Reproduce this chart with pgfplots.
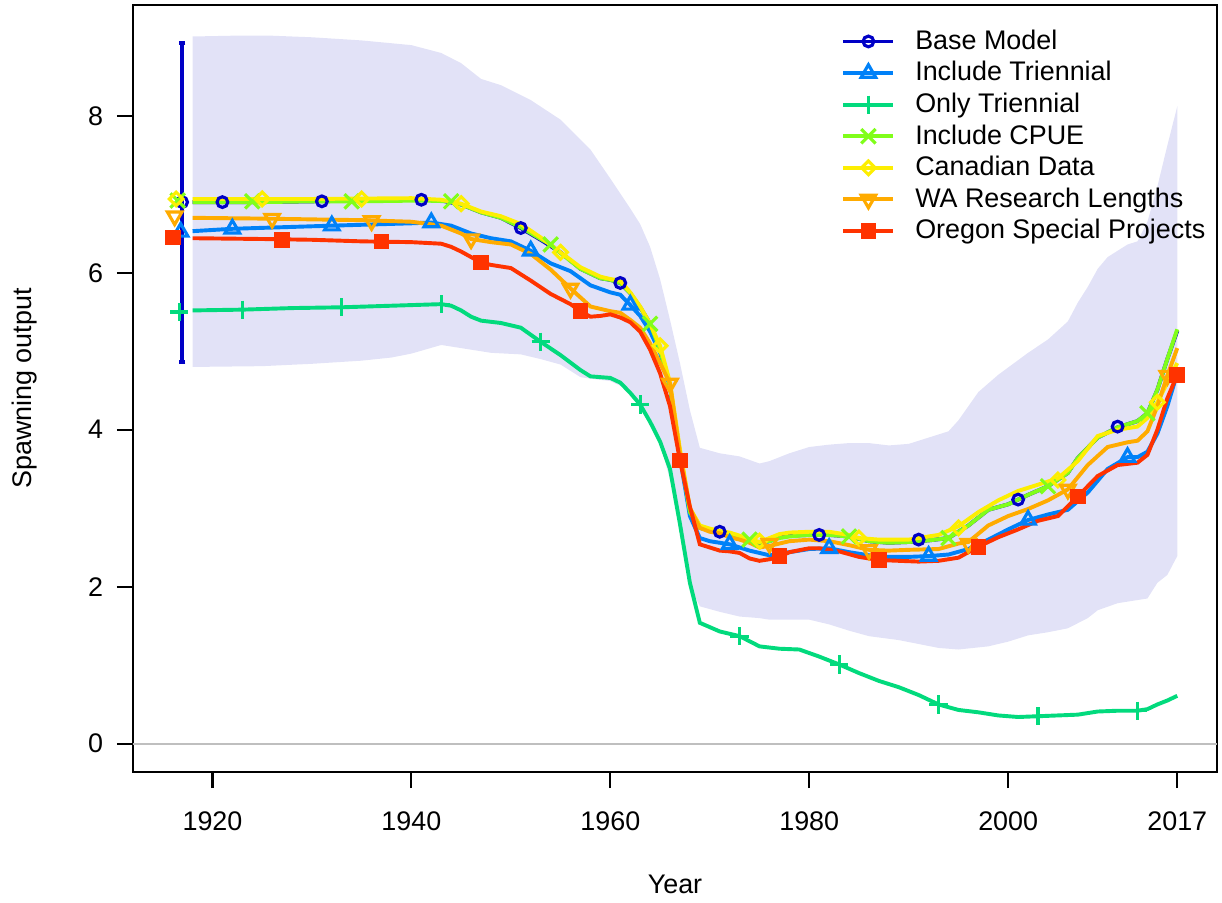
\documentclass[border=0pt]{standalone}
\usepackage{fontspec}
\setmainfont{Liberation Sans}
\usepackage{pgfplots}
\pgfplotsset{compat=1.18}
% r4ss rich colours for 7 models
\definecolor{cbase}{RGB}{0,0,198}
\definecolor{ctri}{RGB}{0,129,248}
\definecolor{conly}{RGB}{2,218,125}
\definecolor{ccpue}{RGB}{128,254,26}
\definecolor{ccan}{RGB}{253,238,2}
\definecolor{cwa}{RGB}{255,171,0}
\definecolor{cor}{RGB}{255,51,0}
\definecolor{shade}{RGB}{226,226,247}

\pgfplotsset{
  sline/.style={line width=1.5pt, no markers},
  smk/.style={only marks},
  mbase/.style={cbase, mark=o, mark size=2.05pt, mark options={solid, line width=1.2pt}},
  mtri/.style={ctri, mark=triangle, mark size=3.2pt, mark options={solid, line width=1.2pt}},
  monly/.style={conly, mark=+, mark size=3.5pt, mark options={solid, line width=1.2pt}},
  mcpue/.style={ccpue, mark=x, mark size=3.9pt, mark options={solid, line width=1.2pt}},
  mcan/.style={ccan, mark=square, mark size=1.85pt, mark options={solid, line width=1.2pt, rotate=45}},
  mwa/.style={cwa, mark=triangle, mark size=3.2pt, mark options={solid, line width=1.2pt, rotate=180}},
  mor/.style={cor, mark=square*, mark size=2.4pt, mark options={solid, line width=1.2pt, fill=cor}},
}

\begin{document}
\fontsize{10.3}{12.4}\selectfont
\begin{tikzpicture}
\begin{axis}[
  scale only axis, width=415.2pt, height=293.8pt,
  xmin=1912, xmax=2021, ymin=-0.362, ymax=9.412,
  xtick={1920,1940,1960,1980,2000,2017},
  xticklabels={1920,1940,1960,1980,2000,2017},
  ytick={0,2,4,6,8},
  yticklabels={0,2,4,6,8},
  tick pos=left, tick align=outside, major tick length=6.1pt,
  every tick/.style={black, line width=0.8pt},
  axis line style={line width=0.85pt},
  xticklabel style={yshift=-5.4pt},
  yticklabel style={xshift=-1.7pt},
  xlabel={Year}, ylabel={Spawning output},
  xlabel style={at={(axis description cs:0.5,-0.146)}, anchor=center},
  ylabel style={at={(axis description cs:-0.0997,0.5)}, anchor=center},
  legend style={draw=none, fill=none, at={(axis description cs:0.6535,0.9694)},
    anchor=north west, inner sep=0pt, outer sep=0pt, row sep=2.1pt, column sep=7.6pt,
    nodes={inner sep=0pt, text height=8pt, text depth=2pt, anchor=west}},
  legend cell align=left,
  legend image code/.code={\draw[mark repeat=2,mark phase=2] plot coordinates {(0pt,0pt)(9.6pt,0pt)(19.2pt,0pt)};},
]
\addlegendimage{mbase, line width=1.5pt}
\addlegendentry{Base Model}
\addlegendimage{mtri, line width=1.5pt}
\addlegendentry{Include Triennial}
\addlegendimage{monly, line width=1.5pt}
\addlegendentry{Only Triennial}
\addlegendimage{mcpue, line width=1.5pt}
\addlegendentry{Include CPUE}
\addlegendimage{mcan, line width=1.5pt}
\addlegendentry{Canadian Data}
\addlegendimage{mwa, line width=1.5pt}
\addlegendentry{WA Research Lengths}
\addlegendimage{mor, line width=1.5pt}
\addlegendentry{Oregon Special Projects}

% uncertainty interval of the base model
\addplot[fill=shade, draw=none, forget plot] coordinates {
(1918,9.01)(1922,9.02)(1926,9.02)(1930,9.00)(1935,8.96)(1940,8.90)(1943,8.80)(1945,8.67)
(1947,8.47)(1949,8.39)(1952,8.20)(1955,7.95)(1958,7.57)(1960,7.20)(1962,6.82)(1963,6.62)
(1964,6.33)(1965,5.92)(1966,5.40)(1967,4.85)(1968,4.25)(1969,3.77)(1971,3.70)(1973,3.66)
(1975,3.57)(1976,3.60)(1978,3.70)(1980,3.78)(1982,3.81)(1984,3.83)(1986,3.83)(1988,3.80)
(1990,3.82)(1992,3.90)(1994,3.98)(1995,4.12)(1996,4.30)(1997,4.48)(1999,4.70)(2002,4.98)
(2004,5.15)(2006,5.38)(2007,5.62)(2008,5.82)(2009,6.05)(2010,6.20)(2012,6.36)(2013,6.40)
(2014,6.65)(2015,7.10)(2016,7.62)(2017,8.12)
(2017,2.39)(2016,2.15)(2015,2.05)(2014,1.85)(2013,1.83)(2011,1.79)(2009,1.70)(2008,1.60)
(2006,1.47)(2004,1.42)(2002,1.38)(2000,1.30)(1998,1.24)(1995,1.20)(1993,1.22)(1991,1.27)
(1989,1.32)(1986,1.37)(1984,1.44)(1982,1.52)(1980,1.58)(1976,1.58)(1975,1.60)(1973,1.62)
(1971,1.68)(1969,1.75)(1968.5,1.88)(1967.7,2.30)(1967,2.85)(1966.5,3.15)(1965.7,3.50)
(1965,3.85)(1964,4.15)(1963,4.35)(1962,4.50)(1960,4.62)(1958,4.65)(1957,4.67)(1955,4.83)
(1953,4.90)(1951,4.96)(1948,4.98)(1946,5.02)(1944,5.06)(1943,5.08)(1940,4.97)(1938,4.92)
(1935,4.88)(1930,4.84)(1925,4.81)(1918,4.80)
} -- cycle;

% zero line
\addplot[color=black!25, line width=0.8pt, forget plot] coordinates {(1912,0)(2021,0)};

% virgin interval, base model
\addplot[cbase, line width=1.5pt, mark=-, mark size=1.2pt, forget plot] coordinates {(1916.95,4.86)(1916.95,8.93)};

% ---- lines ----
\addplot[sline, cbase, forget plot] coordinates {
(1918,6.90)(1925,6.90)(1930,6.91)(1935,6.92)(1941,6.93)(1943,6.92)(1945,6.87)(1947,6.77)
(1949,6.70)(1951,6.57)(1953,6.42)(1955,6.26)(1957,6.05)(1959,5.93)(1960,5.91)(1961,5.87)
(1962,5.74)(1963,5.56)(1964,5.35)(1965,5.02)(1966,4.55)(1967,3.70)(1968,2.95)(1969,2.75)
(1970,2.72)(1971,2.70)(1972,2.66)(1973,2.64)(1974,2.60)(1975,2.56)(1976,2.58)(1977,2.63)
(1978,2.65)(1980,2.66)(1982,2.66)(1984,2.64)(1986,2.58)(1988,2.56)(1990,2.57)(1992,2.59)
(1994,2.62)(1996,2.78)(1998,2.98)(2000,3.05)(2001,3.11)(2002,3.17)(2004,3.28)(2006,3.45)
(2007,3.64)(2009,3.90)(2011,4.03)(2013,4.11)(2014,4.21)(2015,4.51)(2016,4.90)(2017,5.26)
};
\addplot[sline, ctri, forget plot] coordinates {
(1918,6.53)(1922,6.56)(1932,6.60)(1940,6.63)(1942,6.64)(1944,6.60)(1946,6.50)(1948,6.44)
(1950,6.40)(1952,6.28)(1954,6.12)(1956,6.02)(1958,5.84)(1960,5.75)(1961,5.72)(1962,5.59)
(1963,5.45)(1964,5.25)(1965,4.98)(1966,4.55)(1967,3.65)(1968,2.90)(1969,2.62)(1970,2.58)
(1972,2.54)(1974,2.46)(1975,2.43)(1976,2.40)(1977,2.42)(1979,2.46)(1980,2.48)(1982,2.49)
(1984,2.44)(1986,2.40)(1988,2.38)(1990,2.38)(1992,2.39)(1994,2.41)(1996,2.48)(1998,2.60)
(2000,2.73)(2002,2.85)(2004,2.92)(2006,2.98)(2008,3.20)(2010,3.50)(2012,3.65)(2013,3.65)
(2014,3.72)(2015,3.95)(2016,4.30)(2017,4.72)
};
\addplot[sline, conly, forget plot] coordinates {
(1918,5.52)(1923,5.53)(1928,5.55)(1933,5.56)(1938,5.58)(1943,5.60)(1944,5.58)(1945,5.52)
(1946,5.44)(1947,5.39)(1949,5.36)(1951,5.30)(1953,5.12)(1955,4.95)(1957,4.76)(1958,4.68)
(1960,4.66)(1961,4.60)(1962,4.47)(1963,4.32)(1964,4.10)(1965,3.85)(1966,3.50)(1967,2.80)
(1968,2.05)(1969,1.54)(1971,1.43)(1973,1.37)(1975,1.24)(1977,1.21)(1979,1.20)(1981,1.11)
(1983,1.01)(1985,0.90)(1987,0.80)(1989,0.72)(1991,0.62)(1993,0.50)(1995,0.43)(1997,0.40)
(1999,0.36)(2001,0.34)(2003,0.35)(2005,0.36)(2007,0.37)(2009,0.41)(2011,0.42)(2013,0.42)
(2014,0.44)(2015,0.50)(2016,0.55)(2017,0.61)
};
\addplot[sline, ccpue, forget plot] coordinates {
(1918,6.90)(1925,6.90)(1930,6.91)(1935,6.91)(1941,6.92)(1944,6.91)(1945,6.87)(1947,6.77)
(1949,6.70)(1951,6.58)(1953,6.43)(1954,6.36)(1955,6.25)(1957,6.05)(1959,5.93)(1960,5.91)
(1961,5.87)(1962,5.74)(1963,5.56)(1964,5.35)(1965,5.02)(1966,4.55)(1967,3.70)(1968,2.95)
(1969,2.75)(1970,2.72)(1971,2.70)(1972,2.66)(1973,2.63)(1974,2.60)(1975,2.56)(1976,2.58)
(1977,2.62)(1978,2.64)(1980,2.66)(1982,2.66)(1984,2.64)(1986,2.58)(1988,2.56)(1990,2.57)
(1992,2.59)(1994,2.62)(1996,2.78)(1998,2.98)(2000,3.05)(2001,3.11)(2002,3.17)(2004,3.28)
(2006,3.45)(2007,3.64)(2009,3.90)(2011,4.03)(2013,4.11)(2014,4.21)(2015,4.51)(2016,4.90)
(2017,5.28)
};
\addplot[sline, ccan, forget plot] coordinates {
(1918,6.94)(1930,6.94)(1940,6.95)(1943,6.93)(1945,6.88)(1947,6.78)(1949,6.72)(1951,6.62)
(1953,6.45)(1955,6.26)(1957,6.07)(1959,5.95)(1960,5.92)(1961,5.90)(1962,5.75)(1963,5.57)
(1964,5.35)(1965,5.07)(1966,4.60)(1967,3.75)(1968,3.00)(1969,2.78)(1970,2.74)(1971,2.71)
(1972,2.69)(1973,2.65)(1974,2.60)(1975,2.57)(1976,2.62)(1977,2.67)(1978,2.69)(1980,2.70)
(1982,2.70)(1984,2.66)(1985,2.62)(1987,2.60)(1990,2.60)(1993,2.66)(1995,2.77)(1997,2.95)
(1999,3.10)(2001,3.22)(2003,3.30)(2005,3.38)(2007,3.60)(2009,3.92)(2011,4.00)(2013,4.04)
(2014,4.15)(2015,4.35)(2016,4.60)(2017,4.85)
};
\addplot[sline, cwa, forget plot] coordinates {
(1918,6.70)(1925,6.69)(1930,6.68)(1935,6.67)(1940,6.65)(1943,6.60)(1945,6.50)(1946,6.43)
(1948,6.39)(1950,6.36)(1952,6.24)(1954,6.04)(1956,5.80)(1958,5.57)(1960,5.51)(1961,5.49)
(1962,5.40)(1963,5.30)(1964,5.10)(1965,4.85)(1966,4.59)(1967,3.70)(1968,3.00)(1969,2.75)
(1970,2.70)(1971,2.68)(1972,2.63)(1973,2.60)(1974,2.56)(1975,2.50)(1976,2.52)(1977,2.55)
(1978,2.58)(1980,2.60)(1982,2.58)(1984,2.53)(1986,2.47)(1988,2.46)(1990,2.47)(1993,2.48)
(1995,2.55)(1996,2.57)(1998,2.78)(2000,2.90)(2002,2.99)(2004,3.10)(2006,3.24)(2008,3.55)
(2010,3.78)(2012,3.84)(2013,3.86)(2014,3.98)(2015,4.30)(2016,4.69)(2017,5.04)
};
\addplot[sline, cor, forget plot] coordinates {
(1918,6.44)(1925,6.43)(1930,6.42)(1935,6.40)(1940,6.39)(1943,6.37)(1944,6.33)(1945,6.27)
(1946,6.20)(1947,6.13)(1948,6.10)(1950,6.06)(1952,5.90)(1954,5.73)(1956,5.60)(1957,5.51)
(1958,5.44)(1959,5.45)(1960,5.47)(1961,5.43)(1962,5.37)(1963,5.25)(1964,5.02)(1965,4.72)
(1966,4.30)(1967,3.61)(1968,3.02)(1969,2.54)(1970,2.50)(1971,2.46)(1972,2.45)(1973,2.43)
(1974,2.36)(1975,2.33)(1976,2.35)(1977,2.38)(1978,2.44)(1980,2.49)(1981,2.49)(1983,2.45)
(1985,2.38)(1987,2.34)(1989,2.33)(1991,2.32)(1993,2.33)(1995,2.37)(1997,2.51)(1999,2.63)
(2001,2.73)(2003,2.84)(2005,2.90)(2007,3.15)(2009,3.41)(2011,3.55)(2013,3.58)(2014,3.68)
(2015,4.00)(2016,4.40)(2017,4.70)
};

% ---- points (virgin value first) ----
\addplot[smk, mbase, forget plot] coordinates {
(1916.95,6.90)(1921,6.90)(1931,6.91)(1941,6.93)(1951,6.57)(1961,5.87)(1971,2.70)(1981,2.66)
(1991,2.60)(2001,3.11)(2011,4.04)};
\addplot[smk, mtri, forget plot] coordinates {
(1916.8,6.52)(1922,6.56)(1932,6.60)(1942,6.64)(1952,6.28)(1962,5.59)(1972,2.54)(1982,2.49)
(1992,2.39)(2002,2.85)(2012,3.65)};
\addplot[smk, monly, forget plot] coordinates {
(1916.65,5.50)(1923,5.53)(1933,5.56)(1943,5.60)(1953,5.12)(1963,4.32)(1973,1.37)(1983,1.01)
(1993,0.50)(2003,0.35)(2013,0.42)};
\addplot[smk, mcpue, forget plot] coordinates {
(1916.5,6.92)(1924,6.91)(1934,6.91)(1944,6.91)(1954,6.36)(1964,5.35)(1974,2.60)(1984,2.64)
(1994,2.62)(2004,3.28)(2014,4.21)};
\addplot[smk, mcan, forget plot] coordinates {
(1916.35,6.94)(1925,6.94)(1935,6.94)(1945,6.88)(1955,6.26)(1965,5.07)(1975,2.58)(1985,2.62)
(1995,2.75)(2005,3.36)(2015,4.35)};
\addplot[smk, mwa, forget plot] coordinates {
(1916.2,6.72)(1926,6.69)(1936,6.66)(1946,6.43)(1956,5.80)(1966,4.59)(1976,2.55)(1986,2.47)
(1996,2.55)(2006,3.24)(2016,4.69)};
\addplot[smk, mor, forget plot] coordinates {
(1916.05,6.45)(1927,6.42)(1937,6.40)(1947,6.13)(1957,5.51)(1967,3.61)(1977,2.39)(1987,2.34)
(1997,2.51)(2007,3.15)(2017,4.70)};
\end{axis}
\pgfresetboundingbox
\path ([shift={(-50.9pt,-49.8pt)}]current axis.south west) rectangle ([shift={(1.9pt,1.9pt)}]current axis.north east);
\end{tikzpicture}
\end{document}
